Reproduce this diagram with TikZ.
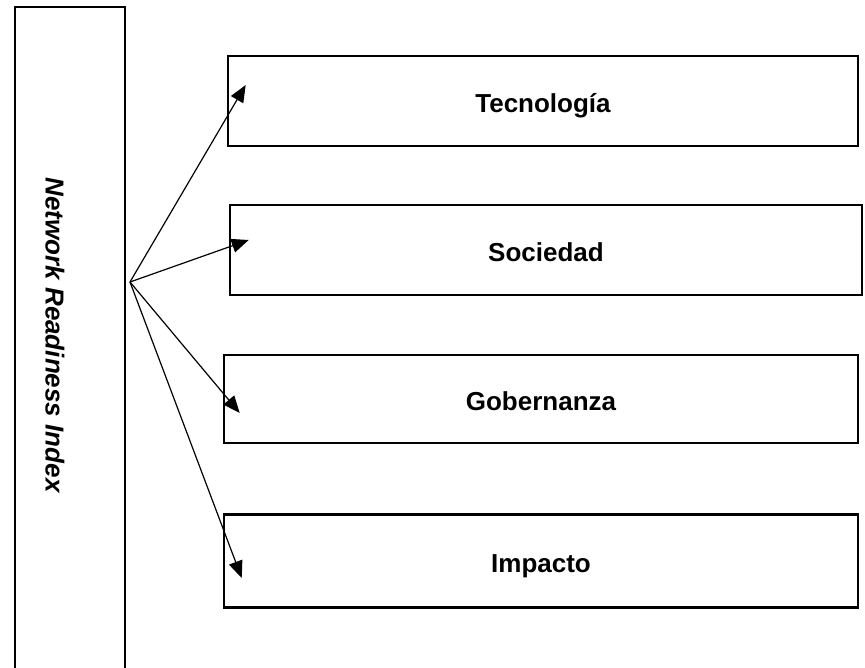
\documentclass[tikz,border=0pt]{standalone}
\usepackage{fontspec}
\setmainfont{Liberation Sans}
\usetikzlibrary{arrows.meta,positioning,calc}
\tikzset{
  box/.style={draw=black,line width=2.6pt,fill=white,inner sep=0pt,
    minimum width=634pt,minimum height=90pt,text height=25pt,text depth=2pt,
    font=\fontsize{26}{30}\selectfont\bfseries},
  idx/.style={draw=black,line width=2.6pt,inner sep=0pt,
    minimum width=110pt,minimum height=700pt},
  lbl/.style={font=\fontsize{26}{30}\selectfont\bfseries\itshape},
  arr/.style={-{Triangle[length=17pt,width=14pt]},line width=1.2pt},
}

\begin{document}
\begin{tikzpicture}[x=1pt,y=-1pt]
  \clip (0,0) rectangle (865,668);
  \fill[white] (0,0) rectangle (865,668);
  \node[idx] (nri) at (70,357) {};
  \node[lbl,rotate=-90] (nrilbl) at (55,335) {Network Readiness Index};
  \coordinate (hub) at (130,282);
  \node[box,minimum width=630pt] (tec) at (543,101) {Tecnología};
  \node[box,minimum width=632pt] (soc) at (546,250) {Sociedad};
  \node[box,minimum height=88pt] (gob) at (541,399) {Gobernanza};
  \node[box,minimum height=93pt] (imp) at (541,561) {Impacto};
  \draw[arr] (hub) -- ($(tec.west)+(19,-16)$);
  \draw[arr] (hub) -- ($(soc.west)+(20,-10)$);
  \draw[arr] (hub) -- ($(gob.west)+(17,14)$);
  \draw[arr] (hub) -- ($(imp.west)+(19,17)$);
\end{tikzpicture}
\end{document}
